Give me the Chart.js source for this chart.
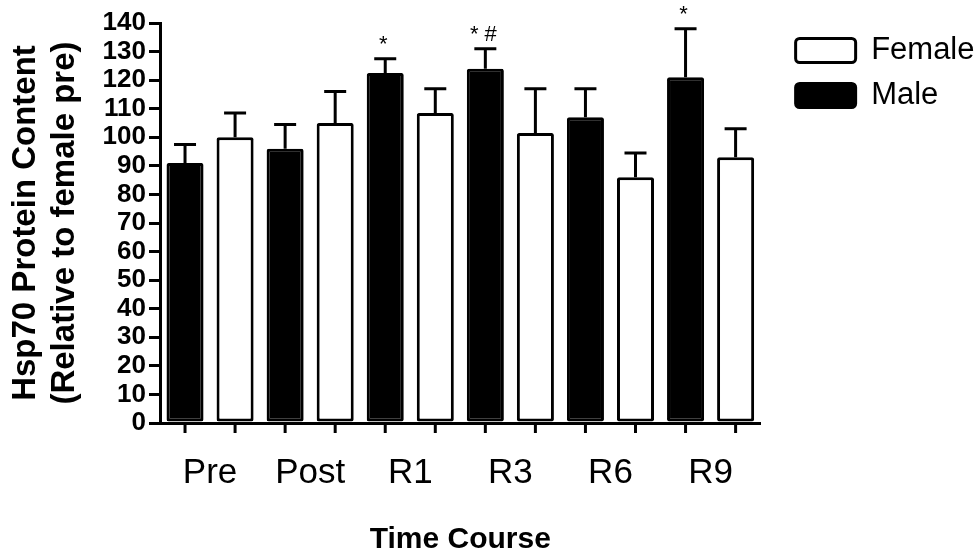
<!DOCTYPE html>
<html>
<head>
<meta charset="utf-8">
<script src="https://cdn.jsdelivr.net/npm/chart.js@4.4.1/dist/chart.umd.min.js"></script>
<style>
  html, body { margin: 0; padding: 0; background: #fff; }
  #wrap { width: 975px; height: 558px; }
</style>
</head>
<body>
<div id="wrap"><canvas id="chart" width="975" height="558"></canvas></div>
<script>
  // ---- data -----------------------------------------------------------------
  const CATEGORIES = ["Pre", "Post", "R1", "R3", "R6", "R9"];
  const MALE = [91, 96, 122.5, 124, 107, 121];
  const MALE_SEM = [6.5, 8.5, 5, 7, 10, 17];
  const FEMALE = [100, 105, 108.5, 101.5, 86, 93];
  const FEMALE_SEM = [8.5, 11, 8.5, 15.5, 8.5, 10];
  const MALE_SIG = ["", "", "*", "* #", "", "*"];
  const Y_MIN = 0, Y_MAX = 140, Y_STEP = 10;

  const FONT = "Arial, 'Liberation Sans', sans-serif";

  // upper-only error bars with caps, drawn on top of each bar element
  const errorBars = {
    id: "errorBars",
    afterDatasetsDraw(chart) {
      const ctx = chart.ctx;
      const y = chart.scales.y;
      ctx.save();
      ctx.strokeStyle = "#000";
      ctx.lineWidth = 3;
      chart.data.datasets.forEach((ds, di) => {
        const meta = chart.getDatasetMeta(di);
        meta.data.forEach((bar, i) => {
          const top = y.getPixelForValue(ds.data[i] + ds.sem[i]);
          ctx.beginPath();
          ctx.moveTo(bar.x, bar.y);
          ctx.lineTo(bar.x, top);
          ctx.moveTo(bar.x - 11, top);
          ctx.lineTo(bar.x + 11, top);
          ctx.stroke();
          if (ds.sig && ds.sig[i]) {
            ctx.fillStyle = "#000";
            ctx.font = "22px " + FONT;
            ctx.textAlign = "center";
            ctx.textBaseline = "alphabetic";
            ctx.fillText(ds.sig[i], bar.x - 2, top - 8);
          }
        });
      });
      ctx.restore();
    },
  };

  // x tick marks sit under every bar, not at the category centre
  const barTicks = {
    id: "barTicks",
    afterDraw(chart) {
      const ctx = chart.ctx;
      const bottom = chart.chartArea.bottom;
      ctx.save();
      ctx.strokeStyle = "#000";
      ctx.lineWidth = 3;
      chart.data.datasets.forEach((ds, di) => {
        chart.getDatasetMeta(di).data.forEach((bar) => {
          ctx.beginPath();
          ctx.moveTo(bar.x, bottom);
          ctx.lineTo(bar.x, bottom + 10);
          ctx.stroke();
        });
      });
      ctx.restore();
    },
  };

  // nudge the legend block away from the plot, like the original figure
  const legendNudge = {
    id: "legendNudge",
    afterLayout(chart) {
      const lg = chart.legend;
      if (!lg) return;
      lg.left += 21; lg.right += 21;
      lg.top -= 2; lg.bottom -= 2;
    },
  };

  new Chart(document.getElementById("chart"), {
    type: "bar",
    data: {
      labels: CATEGORIES,
      datasets: [
        { label: "Male", data: MALE, sem: MALE_SEM, sig: MALE_SIG, backgroundColor: "#000", borderColor: "#000", borderWidth: 3, borderSkipped: false, borderRadius: 2 },
        { label: "Female", data: FEMALE, sem: FEMALE_SEM, backgroundColor: "#fff", borderColor: "#000", borderWidth: 3, borderSkipped: false, borderRadius: 2 },
      ],
    },
    options: {
      responsive: false,
      animation: false,
      devicePixelRatio: 1,
      layout: { padding: { top: 23, right: 11.5, bottom: 0, left: 0 } },
      datasets: { bar: { categoryPercentage: 1.0, barPercentage: 0.74 } },
      plugins: {
        tooltip: { enabled: false },
        legend: {
          position: "right",
          align: "start",
          reverse: true,
          labels: {
            boxWidth: 60,
            boxHeight: 24,
            padding: 14,
            color: "#000",
            font: { family: FONT, size: 31 },
            useBorderRadius: true,
            borderRadius: 4,
          },
        },
      },
      scales: {
        x: {
          afterFit: (s) => { s.height = 135; },
          grid: { display: false, drawTicks: false },
          border: { color: "#000", width: 3 },
          ticks: { color: "#000", padding: 29, font: { family: FONT, size: 35 } },
          title: { display: true, text: "Time Course", color: "#000", padding: { top: 0, bottom: 0 }, font: { family: FONT, size: 30, weight: "bold" } },
        },
        y: {
          min: Y_MIN,
          max: Y_MAX,
          afterFit: (s) => { s.width = 160; },
          grid: { drawOnChartArea: false, color: "#000", lineWidth: 3, tickLength: 11 },
          border: { color: "#000", width: 3 },
          ticks: { stepSize: Y_STEP, autoSkip: false, color: "#000", padding: 3, font: { family: FONT, size: 26, weight: "bold" } },
          title: {
            display: true,
            text: ["Hsp70 Protein Content", "(Relative to female pre)"],
            color: "#000",
            padding: { top: 6, bottom: 0 },
            font: { family: FONT, size: 33, weight: "bold", lineHeight: 1.2 },
          },
        },
      },
    },
    plugins: [errorBars, barTicks, legendNudge],
  });
</script>
</body>
</html>
